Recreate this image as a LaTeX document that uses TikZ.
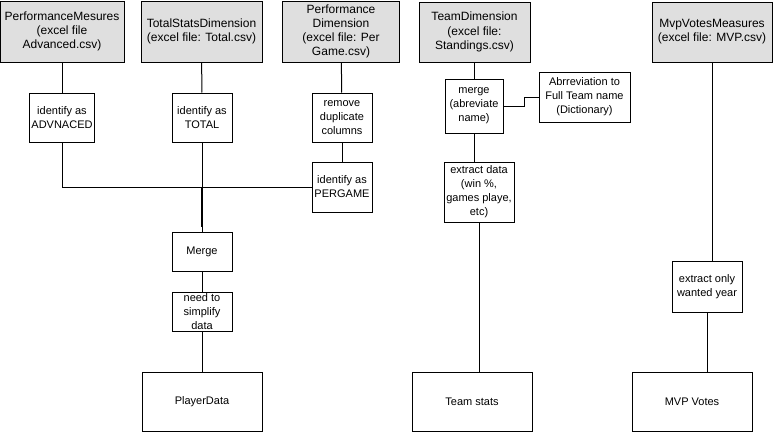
\documentclass[tikz,border=0pt]{standalone}
\usepackage{fontspec}
\setmainfont{Liberation Sans}
\usepackage{tikz}
\usetikzlibrary{positioning}

\begin{document}
\begin{tikzpicture}[
    % GLOBAL CFG
    x=1pt, y=-1pt,
    line width=1pt,
    % Styles
    source/.style={% For the csv files
        rectangle,
        draw,
        fill=gray!25,
        align=center,
        inner sep=1pt,
        minimum height=61pt,
        font=\fontsize{12}{14.2}\selectfont
        },
    task/.style={% For the processing steps
        rectangle,
        draw,
        align=center,
        inner sep=1pt,
        font=\fontsize{11}{14}\selectfont
        },
    result/.style={% For the final tables
        rectangle,
        draw,
        minimum width=120pt,
        minimum height=59pt,
        font=\fontsize{11}{14}\selectfont
        },
    JoinLine/.style={% The heavy piece under the join
        line width=2.2pt,
        }
    ]

    \useasboundingbox (0,0) rectangle (774,434);

%Start drawing the thing...
    % Draw the sources named src#
    \node [source, minimum width=124pt] (srcA) at (62,31.5) {PerformanceMesures\\(excel file\\Advanced.csv)};
    \node [source, minimum width=121pt] (srcB) at (201.5,31.5) {TotalStatsDimension\\(excel file: Total.csv)};
    \node [source, minimum width=117pt] (srcC) at (341,31.5) {Performance\\Dimension\\(excel file: Per\\Game.csv)};
    \node [source, minimum width=111pt, minimum height=60pt] (srcD) at (474.5,32) {TeamDimension\\(excel file:\\Standings.csv)};
    \node [source, minimum width=120pt, minimum height=60pt] (srcE) at (712,32) {MvpVotesMeasures\\(excel file: MVP.csv)};

    % Draw the steps of the player data
    \node [task, minimum width=65pt, minimum height=49pt] (idA) at (62,117.5) {identify as\\ADVNACED};
    \node [task, minimum width=60pt, minimum height=49pt] (idB) at (202,117.5) {identify as\\TOTAL};
    \node [task, minimum width=60pt, minimum height=49pt] (remC) at (342,117.5) {remove\\duplicate\\columns};
    \node [task, minimum width=60pt, minimum height=50pt] (idC) at (342,187) {identify as\\PERGAME};
    \node [task, minimum width=60pt, minimum height=39pt] (merge) at (202,251.5) {Merge};
    \node [task, minimum width=60pt, minimum height=39pt] (simp) at (202,311.5) {need to\\simplify\\data};

    % Draw the steps of the team data
    \node [task, minimum width=58pt, minimum height=54pt] (mergeD) at (474,106) {merge\\(abreviate\\name)};
    \node [task, minimum width=91pt, minimum height=50pt] (dict) at (584.5,97) {Abrreviation to\\Full Team name\\(Dictionary)};
    \node [task, minimum width=70pt, minimum height=60pt] (extrD) at (479,192) {extract data\\(win \%,\\games playe,\\etc)};

    % Draw the step of the mvp data
    \node [task, minimum width=70pt, minimum height=51pt] (extrE) at (707,286.5) {extract only\\wanted year};

    % Draw the results
    \node [result] (player) at (202,401.5) {PlayerData};
    \node [result] (team) at (472,401.5) {Team stats};
    \node [result] (mvp) at (692,401.5) {MVP Votes};

% Start connecting all.
    % Player data
    \draw (srcA) -- (idA);
    \draw (srcB) -- (idB);
    \draw (srcC) -- (remC);
    \draw (remC) -- (idC);
    \draw (idA.south) |- (idC.west) coordinate[pos=0.5] (corner);
    \draw (idB) -- (idB |- corner) coordinate (join);
    \draw (join) -- (merge);
    \draw [JoinLine] (join) -- ++(0,40);
    \draw (merge) -- (simp);
    \draw (simp) -- (player);

    % Team data
    \draw (srcD.south -| mergeD) -- (mergeD);
    \draw (mergeD.east) -- ++(21,0) |- (dict.west);
    \draw (mergeD.south) -- (mergeD.south |- extrD.north);
    \draw (extrD.south) -- (extrD.south |- team.north);

    % Mvp data
    \draw (srcE) -- (srcE |- extrE.north);
    \draw (extrE) -- (extrE |- mvp.north);

\end{tikzpicture}
\end{document}
